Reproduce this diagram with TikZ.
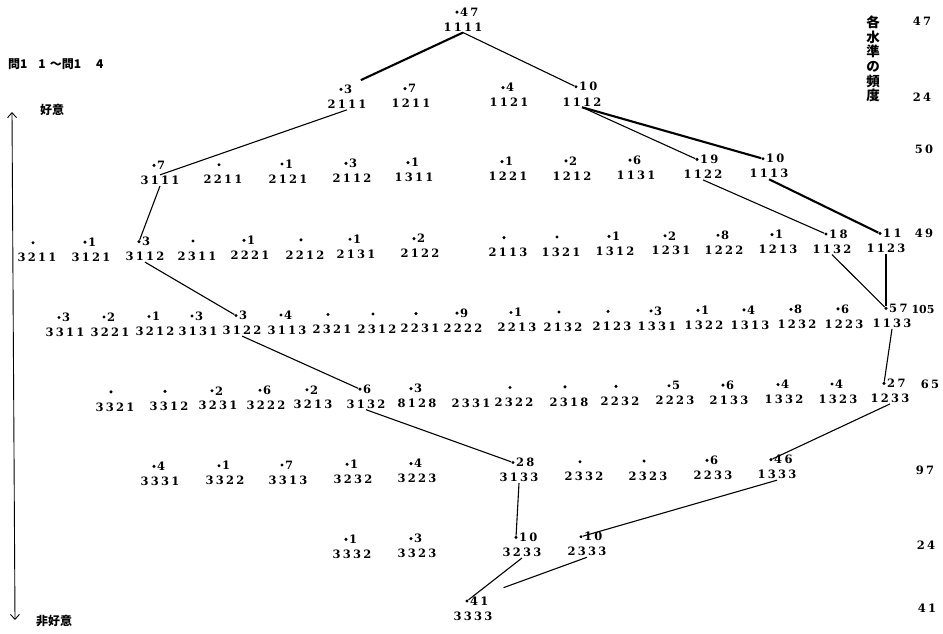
\documentclass[tikz,border=0pt]{standalone}
\usepackage{fontspec}
\setmainfont{Liberation Serif}
\newfontfamily\jpfont{Noto Sans CJK JP}
\newfontfamily\digfont[LetterSpace=20]{DejaVu Serif}
\newfontfamily\numfont{DejaVu Serif}
\usetikzlibrary{arrows.meta,calc}

\tikzset{
  code/.style={font=\digfont\bfseries\fontsize{11.5}{12}\selectfont, inner sep=1pt},
  count/.style={font=\digfont\bfseries\fontsize{11.5}{12}\selectfont, inner sep=0.5pt, anchor=west},
  dotmark/.style={circle, fill=black, inner sep=0pt, minimum size=3.4pt},
  link/.style={line width=1.1pt},
  heavylink/.style={line width=2.1pt},
  levelnum/.style={font=\digfont\bfseries\fontsize{11.5}{12}\selectfont, inner sep=0pt},
  jplabel/.style={font=\jpfont\bfseries\fontsize{12}{12}\selectfont, inner sep=0pt},
  axisline/.style={line width=0.9pt, {Straight Barb[length=5pt,width=9pt]}-{Straight Barb[length=5pt,width=9pt]}},
}

% response pattern with its frequency: name, x, y, frequency, printed code
\newcommand\Lnode[5]{%
  \pgfmathsetmacro\ny{#3-0.011*(#2-470)}%
  \node[code] (c#1) at (#2,\ny) {#5};
  \node[dotmark] (d#1) at ($(c#1)+(-6,-15)$) {};
  \node[count] (k#1) at ($(d#1.east)+(0.6,0)$) {#4};
}
% pattern with an empty frequency (dot only)
\newcommand\Enode[4]{%
  \pgfmathsetmacro\ny{#3-0.011*(#2-470)}%
  \node[code] (c#1) at (#2,\ny) {#4};
  \node[dotmark] (d#1) at ($(c#1)+(-4,-15)$) {};
}
% pattern printed without a dot
\newcommand\Bnode[4]{%
  \pgfmathsetmacro\ny{#3-0.011*(#2-470)}%
  \node[code] (c#1) at (#2,\ny) {#4};
}

\begin{document}
\begin{tikzpicture}[x=1pt,y=-1pt]
\useasboundingbox[fill=white] (0,0) rectangle (943,633);

% ---- left axis and captions ----
\node[jplabel, anchor=west] (title) at (8,64) {問1\hspace{11pt}1\hspace{4pt}〜問1\hspace{15pt}4};
\node[jplabel] (fav) at (52,110) {好意};
\node[jplabel] (unfav) at (54,621) {非好意};
\coordinate (axtop) at (12,112);
\coordinate (axbot) at (15,620);
\draw[axisline] (axtop) -- (axbot);

% ---- level frequencies ----
\node[jplabel, font=\jpfont\bfseries\fontsize{13.5}{14.7}\selectfont, align=center] (hdr) at (873,59) {各\\水\\準\\の\\頻\\度};
\node[levelnum] (f0) at (922,21) {47};
\node[levelnum] (f1) at (922,97) {24};
\node[levelnum] (f2) at (924,149) {50};
\node[levelnum] (f3) at (924,233) {49};
\node[levelnum, font=\numfont\bfseries\fontsize{11}{12}\selectfont] (f4) at (923,309) {105};
\node[levelnum] (f5) at (930,384) {65};
\node[levelnum] (f6) at (925,470) {97};
\node[levelnum] (f7) at (926,545) {24};
\node[levelnum] (f8) at (927,608) {41};

% ---- row 0 ----
\Lnode{1111}{463}{27}{47}{1111}
% ---- row 1 ----
\Lnode{2111}{347}{103}{3}{2111}
\Lnode{1211}{411}{103}{7}{1211}
\Lnode{1121}{509}{103}{4}{1121}
\Lnode{1112}{582}{103}{10}{1112}
% ---- row 2 ----
\Lnode{3111}{160}{177}{7}{3111}
\Enode{2211}{223}{177}{2211}
\Lnode{2121}{288}{177}{1}{2121}
\Lnode{2112}{352}{177}{3}{2112}
\Lnode{1311}{414}{177}{1}{1311}
\Lnode{1221}{508}{177}{1}{1221}
\Lnode{1212}{572}{177}{2}{1212}
\Lnode{1131}{636}{177}{6}{1131}
\Lnode{1122}{703}{177}{19}{1122}
\Lnode{1113}{769}{177}{10}{1113}
% ---- row 3 ----
\Enode{3211}{37}{253}{3211}
\Lnode{3121}{91}{253}{1}{3121}
\Lnode{3112}{145}{253}{3}{3112}
\Enode{2311}{197}{253}{2311}
\Lnode{2221}{250}{253}{1}{2221}
\Enode{2212}{305}{253}{2212}
\Lnode{2131}{356}{253}{1}{2131}
\Lnode{2122}{420}{253}{2}{2122}
\Enode{2113}{508}{253}{2113}
\Enode{1321}{561}{253}{1321}
\Lnode{1312}{615}{253}{1}{1312}
\Lnode{1231}{671}{253}{2}{1231}
\Lnode{1222}{724}{253}{8}{1222}
\Lnode{1213}{778}{253}{1}{1213}
\Lnode{1132}{832}{253}{18}{1132}
\Lnode{1123}{886}{253}{11}{1123}
% ---- row 4 ----
\Lnode{3311}{65}{328}{3}{3311}
\Lnode{3221}{110}{328}{2}{3221}
\Lnode{3212}{155}{328}{1}{3212}
\Lnode{3131}{198}{328}{3}{3131}
\Lnode{3122}{242}{328}{3}{3122}
\Lnode{3113}{287}{328}{4}{3113}
\Enode{2321}{332}{328}{2321}
\Enode{2312}{377}{328}{2312}
\Enode{2231}{420}{328}{2231}
\Lnode{2222}{463}{328}{9}{2222}
\Lnode{2213}{517}{328}{1}{2213}
\Enode{2132}{563}{328}{2132}
\Enode{2123}{612}{328}{2123}
\Lnode{1331}{657}{328}{3}{1331}
\Lnode{1322}{704}{328}{1}{1322}
\Lnode{1313}{750}{328}{4}{1313}
\Lnode{1232}{797}{328}{8}{1232}
\Lnode{1223}{844}{328}{6}{1223}
\Lnode{1133}{892}{328}{57}{1133}
% ---- row 5 ----
\Enode{3321}{115}{403}{3321}
\Enode{3312}{169}{403}{3312}
\Lnode{3231}{218}{403}{2}{3231}
\Lnode{3222}{266}{403}{6}{3222}
\Lnode{3213}{313}{403}{2}{3213}
\Lnode{3132}{366}{403}{6}{3132}
\Lnode{8128}{417}{403}{3}{8128}
\Bnode{2331}{471}{403}{2331}
\Enode{2322}{514}{403}{2322}
\Enode{2318}{569}{403}{2318}
\Enode{2232}{620}{403}{2232}
\Lnode{2223}{675}{403}{5}{2223}
\Lnode{2133}{729}{403}{6}{2133}
\Lnode{1332}{784}{403}{4}{1332}
\Lnode{1323}{838}{403}{4}{1323}
\Lnode{1233}{890}{403}{27}{1233}
% ---- row 6 ----
\Lnode{3331}{160}{478}{4}{3331}
\Lnode{3322}{225}{478}{1}{3322}
\Lnode{3313}{288}{478}{7}{3313}
\Lnode{3232}{353}{478}{1}{3232}
\Lnode{3223}{417}{478}{4}{3223}
\Lnode{3133}{519}{478}{28}{3133}
\Enode{2332}{584}{478}{2332}
\Enode{2323}{648}{478}{2323}
\Lnode{2233}{713}{478}{6}{2233}
\Lnode{1333}{777}{478}{46}{1333}
% ---- row 7 ----
\Lnode{3332}{352}{553}{1}{3332}
\Lnode{3323}{417}{553}{3}{3323}
\Lnode{3233}{522}{553}{10}{3233}
\Lnode{2333}{587}{553}{10}{2333}
% ---- row 8 ----
\Lnode{3333}{473}{616}{41}{3333}

% ---- paths through the lattice ----
\draw[heavylink, shorten >=20pt] (c1111.south) -- (d2111);
\draw[link] (c1111.south) -- (d1112);
\draw[link] (c2111.south) -- (c3111.north);
\draw[link] (c3111.south) -- (d3112);
\draw[link] (c3112.south) -- (d3122);
\draw[link] (c3122.south) -- (d3132);
\draw[link] (c3132.south) -- (d3133);
\draw[link] (c3133.south) -- (d3233);
\draw[link] (c3233.south) -- (d3333);

\draw[link] (c1112.south) -- (d1122);
\draw[heavylink] (c1112.south) -- (d1113);
\draw[link] (c1122.south) -- (d1132);
\draw[heavylink] (c1113.south) -- (d1123);
\draw[link] (c1132.south) -- (d1133);
\draw[link] (c1123.south) -- (d1133);
\draw[link] (c1133.south) -- (d1233);
\draw[link] (c1233.south) -- (d1333);
\draw[link] (c1333.south) -- (d2333);
\draw[link, shorten >=37pt] (c2333.south) -- (d3333);
\end{tikzpicture}
\end{document}
